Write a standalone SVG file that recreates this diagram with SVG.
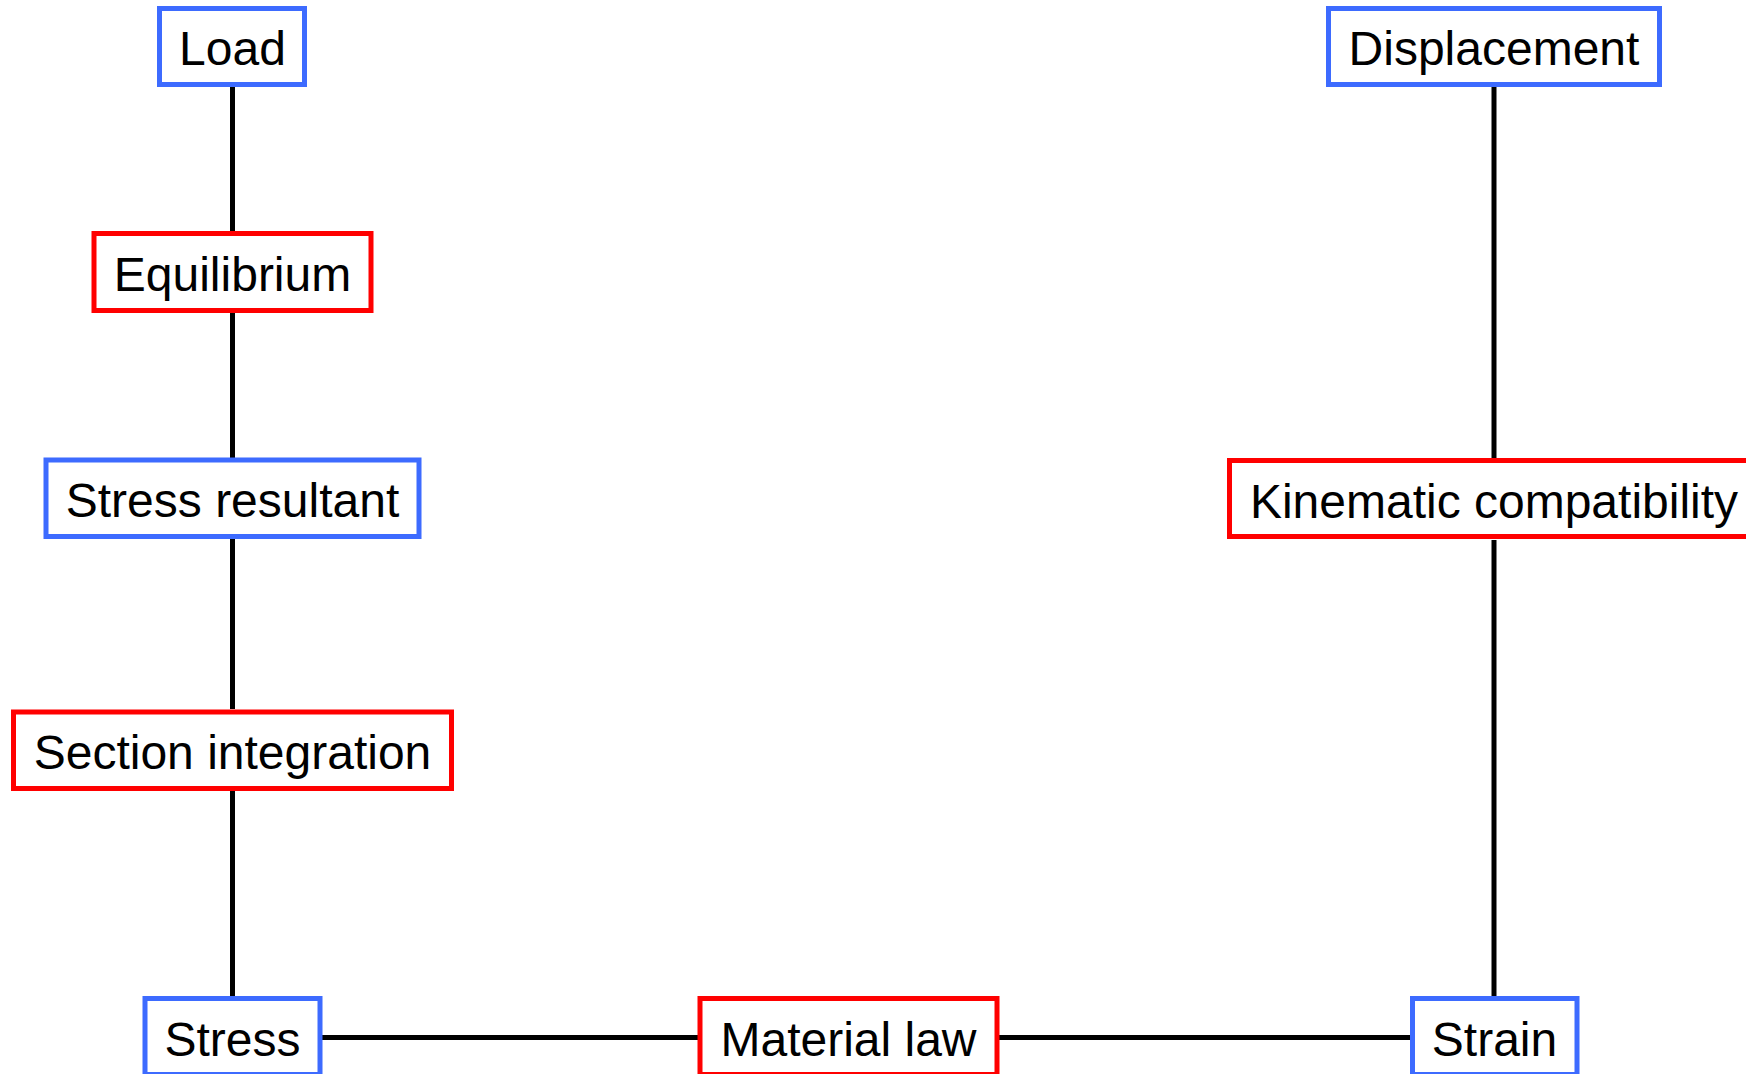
<svg xmlns="http://www.w3.org/2000/svg" width="1746" height="1074" viewBox="0 0 1746 1074">
<style>
.bg{fill:#ffffff}
.q{fill:#ffffff;stroke:#3d6bff;stroke-width:5}
.p{fill:#ffffff;stroke:#ff0000;stroke-width:5}
.t{font-family:"Liberation Sans",Arial,sans-serif;font-size:48px;fill:#000000;text-anchor:middle}
.c{stroke:#000000;stroke-width:5;fill:none}
</style>
<rect class="bg" x="0" y="0" width="1746" height="1074"/>
<g id="connectors">
<line class="c" x1="232.5" y1="87" x2="232.5" y2="231"/>
<line class="c" x1="232.5" y1="313" x2="232.5" y2="458"/>
<line class="c" x1="232.5" y1="539" x2="232.5" y2="709"/>
<line class="c" x1="232.5" y1="791" x2="232.5" y2="996"/>
<line class="c" x1="1494" y1="87" x2="1494" y2="458"/>
<line class="c" x1="1494" y1="540" x2="1494" y2="996"/>
<line class="c" x1="322" y1="1037.5" x2="698" y2="1037.5"/>
<line class="c" x1="999" y1="1037.5" x2="1410" y2="1037.5"/>
</g>
<g id="load"><rect class="q" x="159.5" y="8.5" width="145" height="76"/><text class="t" x="232.5" y="65">Load</text></g>
<g id="equilibrium"><rect class="p" x="94" y="233.5" width="277" height="77"/><text class="t" x="232.5" y="290.5">Equilibrium</text></g>
<g id="stress-resultant"><rect class="q" x="46" y="460" width="373" height="76.5"/><text class="t" x="232.5" y="517">Stress resultant</text></g>
<g id="section-integration"><rect class="p" x="13.5" y="712" width="438" height="76.5"/><text class="t" x="232.5" y="769">Section integration</text></g>
<g id="stress"><rect class="q" x="145" y="998.5" width="175" height="76"/><text class="t" x="232.5" y="1056">Stress</text></g>
<g id="material-law"><rect class="p" x="700" y="998.5" width="297" height="76"/><text class="t" x="848.5" y="1056">Material law</text></g>
<g id="strain"><rect class="q" x="1412.5" y="998.5" width="164.5" height="76"/><text class="t" x="1494.5" y="1056">Strain</text></g>
<g id="displacement"><rect class="q" x="1328.5" y="8.5" width="331" height="76"/><text class="t" x="1494" y="65">Displacement</text></g>
<g id="kinematic-compatibility"><rect class="p" x="1229.5" y="460.5" width="530" height="76"/><text class="t" x="1494" y="517.5">Kinematic compatibility</text></g>
</svg>
